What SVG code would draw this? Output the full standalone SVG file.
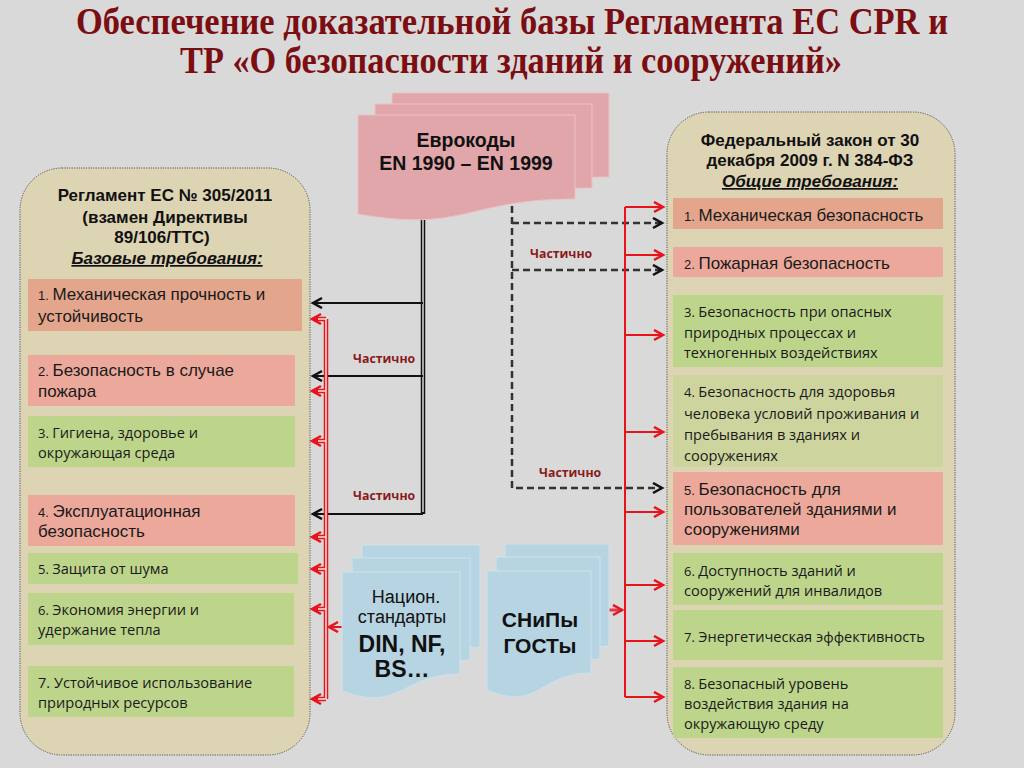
<svg xmlns="http://www.w3.org/2000/svg" width="1024" height="768" viewBox="0 0 1024 768">
<defs>
<style>
.title{font-family:"Liberation Serif","Times New Roman",serif;font-weight:bold;font-size:37px;fill:#7b0e12}
.hdr{font-family:"Liberation Sans",Arial,sans-serif;font-weight:bold;font-size:17px;fill:#111}
.hdri{font-style:italic;text-decoration:underline}
.ar{font-family:"Liberation Sans",Arial,sans-serif;font-size:17px;fill:#1a1a1a}
.cb{font-family:"Open Sans","Noto Sans",sans-serif;font-size:14.6px;fill:#1a1a1a}
.n{font-size:13px}
.part{font-family:"Open Sans","Noto Sans",sans-serif;font-weight:bold;font-size:12.3px;fill:#8b1a1a}
.panel{fill:#ddd4b4;stroke:#555;stroke-width:1;stroke-dasharray:1.2 1.2}
.salmon{fill:#e3a58c}
.pink{fill:#eca99b}
.green{fill:#bdd58b}
.pale{fill:#cdd49d}
.pinkdoc{fill:#e1a6a9;stroke:#ecc2c4;stroke-width:1}
.bluedoc{fill:#b7d4e3;stroke:#cde2ec;stroke-width:1}
.doct{font-family:"Liberation Sans",Arial,sans-serif;fill:#111}
.blk{fill:none;stroke:#111;stroke-width:1.8}
.blk2{fill:none;stroke:#111;stroke-width:4.5}
.gap{fill:none;stroke:#d9d9d9;stroke-width:1.5}
.red2{fill:none;stroke:#e8141c;stroke-width:4.5}
.redgap{fill:none;stroke:#f4e4e4;stroke-width:1.5}
.red{fill:none;stroke:#e8141c;stroke-width:2}
.dash{fill:none;stroke:#333;stroke-width:2.5;stroke-dasharray:7 4}
</style>
<marker id="ab" markerUnits="userSpaceOnUse" markerWidth="14" markerHeight="14" refX="10" refY="6" orient="auto">
<path d="M1,1 L10,6 L1,11" fill="none" stroke="#111" stroke-width="2.5"/>
</marker>
<marker id="ar" markerUnits="userSpaceOnUse" markerWidth="14" markerHeight="14" refX="10" refY="6" orient="auto">
<path d="M1,1 L10,6 L1,11" fill="none" stroke="#e8141c" stroke-width="2.5"/>
</marker>
<path id="pdoc" d="M0,0 H217 V84 C108,84 108,118 0,99 Z"/>
<path id="bdoc" d="M0,0 H118 V102 C59,102 59,141 0,119 Z"/>
<path id="sdoc" d="M0,0 H104 V102 C52,102 52,141 0,119 Z"/>
</defs>
<rect x="0" y="0" width="1024" height="768" fill="#d9d9d9"/>

<g id="title">
<text class="title" x="512" y="34" text-anchor="middle" textLength="872" lengthAdjust="spacingAndGlyphs">Обеспечение доказательной базы Регламента ЕС CPR и</text>
<text class="title" x="511" y="73" text-anchor="middle" textLength="662" lengthAdjust="spacingAndGlyphs">ТР «О безопасности зданий и сооружений»</text>
</g>

<g id="left-panel">
<rect class="panel" x="20" y="168" width="290" height="587" rx="42" ry="42"/>
<text class="hdr" x="165" y="201" text-anchor="middle">Регламент ЕС № 305/2011</text>
<text class="hdr" x="165" y="223" text-anchor="middle">(взамен Директивы</text>
<text class="hdr" x="162" y="243" text-anchor="middle">89/106/ТТС)</text>
<text class="hdr hdri" x="167" y="264" text-anchor="middle">Базовые требования:</text>
</g>

<g id="L1"><rect class="salmon" x="28" y="279" width="274" height="52"/>
<text class="ar" x="38" y="300"><tspan class="n">1. </tspan>Механическая прочность и</text>
<text class="ar" x="38" y="322">устойчивость</text></g>
<g id="L2"><rect class="pink" x="28" y="355" width="267" height="51"/>
<text class="ar" x="38" y="376"><tspan class="n">2. </tspan>Безопасность в случае</text>
<text class="ar" x="38" y="397">пожара</text></g>
<g id="L3"><rect class="green" x="28" y="416" width="267" height="51"/>
<text class="cb" x="38" y="438"><tspan class="n">3. </tspan>Гигиена, здоровье и</text>
<text class="cb" x="38" y="458">окружающая среда</text></g>
<g id="L4"><rect class="pink" x="28" y="495" width="267" height="51"/>
<text class="ar" x="38" y="517"><tspan class="n">4. </tspan>Эксплуатационная</text>
<text class="ar" x="38" y="537">безопасность</text></g>
<g id="L5"><rect class="green" x="28" y="553" width="270" height="31"/>
<text class="cb" x="38" y="574"><tspan class="n">5. </tspan>Защита от шума</text></g>
<g id="L6"><rect class="green" x="28" y="593" width="266" height="52"/>
<text class="cb" x="38" y="615"><tspan class="n">6. </tspan>Экономия энергии и</text>
<text class="cb" x="38" y="635">удержание тепла</text></g>
<g id="L7"><rect class="green" x="28" y="666" width="266" height="51"/>
<text class="cb" x="38" y="688">7. Устойчивое использование</text>
<text class="cb" x="38" y="708">природных ресурсов</text></g>

<g id="right-panel">
<rect class="panel" x="667" y="112" width="288" height="643" rx="42" ry="42"/>
<text class="hdr" x="810" y="146" text-anchor="middle">Федеральный закон от 30</text>
<text class="hdr" x="810" y="166" text-anchor="middle">декабря 2009 г. N 384-ФЗ</text>
<text class="hdr hdri" x="810" y="187" text-anchor="middle">Общие требования:</text>
</g>

<g id="R1"><rect class="salmon" x="673" y="198" width="270" height="31"/>
<text class="ar" x="684" y="221"><tspan class="n">1. </tspan>Механическая безопасность</text></g>
<g id="R2"><rect class="pink" x="673" y="247" width="270" height="30"/>
<text class="ar" x="684" y="269"><tspan class="n">2. </tspan>Пожарная безопасность</text></g>
<g id="R3"><rect class="green" x="673" y="295" width="270" height="72"/>
<text class="cb" x="684" y="317"><tspan class="n">3. </tspan>Безопасность при опасных</text>
<text class="cb" x="684" y="338">природных процессах и</text>
<text class="cb" x="684" y="358">техногенных воздействиях</text></g>
<g id="R4"><rect class="pale" x="673" y="375" width="270" height="92"/>
<text class="cb" x="684" y="397"><tspan class="n">4. </tspan>Безопасность для здоровья</text>
<text class="cb" x="684" y="419">человека условий проживания и</text>
<text class="cb" x="684" y="440">пребывания в зданиях и</text>
<text class="cb" x="684" y="461">сооружениях</text></g>
<g id="R5"><rect class="pink" x="673" y="472" width="270" height="73"/>
<text class="ar" x="684" y="495"><tspan class="n">5. </tspan>Безопасность для</text>
<text class="ar" x="684" y="515">пользователей зданиями и</text>
<text class="ar" x="684" y="535">сооружениями</text></g>
<g id="R6"><rect class="green" x="673" y="553" width="270" height="52"/>
<text class="cb" x="684" y="576"><tspan class="n">6. </tspan>Доступность зданий и</text>
<text class="cb" x="684" y="596">сооружений для инвалидов</text></g>
<g id="R7"><rect class="green" x="673" y="610" width="270" height="50"/>
<text class="cb" x="684" y="642"><tspan class="n">7. </tspan>Энергетическая эффективность</text></g>
<g id="R8"><rect class="green" x="673" y="667" width="270" height="71"/>
<text class="cb" x="684" y="689"><tspan class="n">8. </tspan>Безопасный уровень</text>
<text class="cb" x="684" y="709">воздействия здания на</text>
<text class="cb" x="684" y="729">окружающую среду</text></g>

<g id="connectors">
<path class="blk2" d="M423,219 V514"/>
<path class="gap" d="M423,219 V512"/>
<path class="blk" d="M423,303 H313" marker-end="url(#ab)"/>
<path class="blk" d="M423,376 H313" marker-end="url(#ab)"/>
<path class="blk" d="M423,514 H313" marker-end="url(#ab)"/>
<path class="dash" d="M512,206 V488 H662" marker-end="url(#ab)"/>
<path class="dash" d="M512,223 H662" marker-end="url(#ab)"/>
<path class="dash" d="M512,270 H662" marker-end="url(#ab)"/>
<path class="red2" d="M326,319 V699"/>
<path class="red2" d="M326,319 H314 M326,391 H314 M326,441 H314 M326,537 H314 M326,569 H314 M326,609 H314 M326,699 H314"/>
<path class="redgap" d="M326,319 V699 M326,319 H318 M326,391 H318 M326,441 H318 M326,537 H318 M326,569 H318 M326,609 H318 M326,699 H318"/>
<path class="red" d="M318,319 H312" marker-end="url(#ar)"/>
<path class="red" d="M318,391 H312" marker-end="url(#ar)"/>
<path class="red" d="M318,441 H312" marker-end="url(#ar)"/>
<path class="red" d="M318,537 H312" marker-end="url(#ar)"/>
<path class="red" d="M318,569 H312" marker-end="url(#ar)"/>
<path class="red" d="M318,609 H312" marker-end="url(#ar)"/>
<path class="red" d="M318,699 H312" marker-end="url(#ar)"/>
<path class="red" d="M343,627 H329" stroke-width="3" marker-end="url(#ar)"/>
<path class="red" d="M625,207 V697"/>
<path class="red" d="M625,207 H663" marker-end="url(#ar)"/>
<path class="red" d="M625,255 H663" marker-end="url(#ar)"/>
<path class="red" d="M625,335 H663" marker-end="url(#ar)"/>
<path class="red" d="M625,432 H663" marker-end="url(#ar)"/>
<path class="red" d="M625,512 H663" marker-end="url(#ar)"/>
<path class="red" d="M625,585 H663" marker-end="url(#ar)"/>
<path class="red" d="M625,641 H663" marker-end="url(#ar)"/>
<path class="red" d="M625,697 H663" marker-end="url(#ar)"/>
<path d="M592,610 H622" fill="none" stroke="#e23a4a" stroke-width="3" marker-end="url(#ar)"/>
<text class="part" x="530" y="258">Частично</text>
<text class="part" x="353" y="363">Частично</text>
<text class="part" x="353" y="500">Частично</text>
<text class="part" x="539" y="477">Частично</text>
</g>

<g id="eurocodes">
<use href="#pdoc" class="pinkdoc" x="392" y="93"/>
<use href="#pdoc" class="pinkdoc" x="375" y="104"/>
<use href="#pdoc" class="pinkdoc" x="358" y="115"/>
<text class="doct" x="466" y="147" text-anchor="middle" font-size="19.5" font-weight="bold">Еврокоды</text>
<text class="doct" x="466" y="170" text-anchor="middle" font-size="19.5" font-weight="bold">EN 1990 – EN 1999</text>
</g>

<g id="national-standards">
<use href="#bdoc" class="bluedoc" x="362" y="545"/>
<use href="#bdoc" class="bluedoc" x="352" y="558"/>
<use href="#bdoc" class="bluedoc" x="342" y="572"/>
<text class="doct" x="406" y="603" text-anchor="middle" font-size="18">Национ.</text>
<text class="doct" x="402" y="623" text-anchor="middle" font-size="18">стандарты</text>
<text class="doct" x="402" y="652" text-anchor="middle" font-size="23" font-weight="bold">DIN, NF,</text>
<text class="doct" x="402" y="677" text-anchor="middle" font-size="23" font-weight="bold">BS…</text>
</g>

<g id="snip">
<use href="#sdoc" class="bluedoc" x="505" y="544"/>
<use href="#sdoc" class="bluedoc" x="496" y="557"/>
<use href="#sdoc" class="bluedoc" x="487" y="571"/>
<text class="doct" x="540" y="627" text-anchor="middle" font-size="21" font-weight="bold">СНиПы</text>
<text class="doct" x="540" y="653" text-anchor="middle" font-size="21" font-weight="bold">ГОСТы</text>
</g>
</svg>
